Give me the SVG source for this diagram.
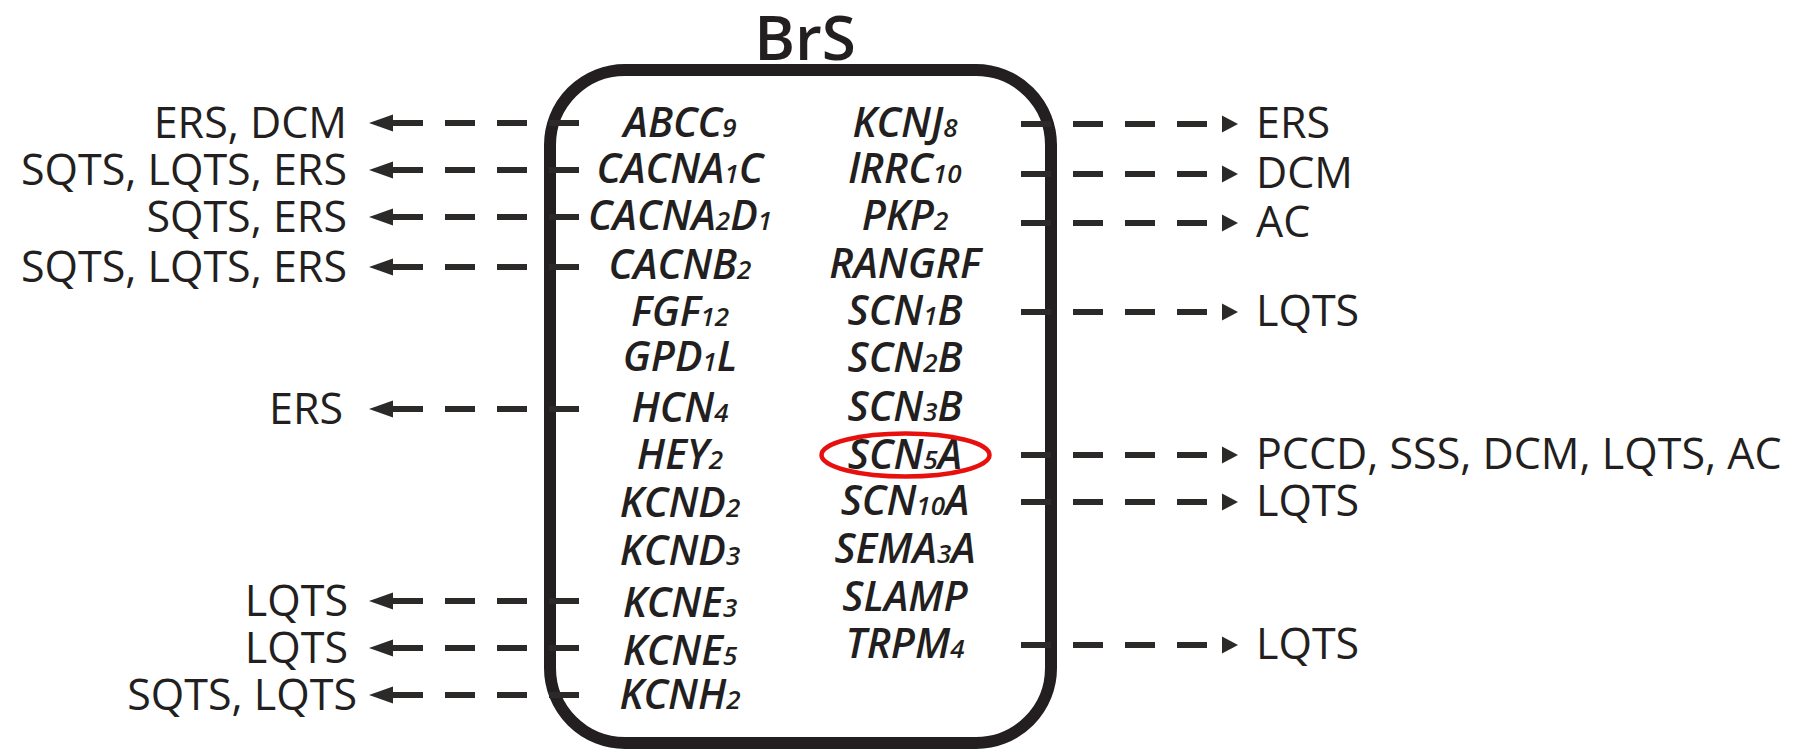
<svg xmlns="http://www.w3.org/2000/svg" width="1801" height="751" viewBox="0 0 1801 751">
<style>
.box{fill:none;stroke:#231f20;stroke-width:12}
.conn{fill:none;stroke:#2b2a29;stroke-width:6;stroke-dasharray:30 22}
.hd{fill:#2b2a29}
.gene{font-family:"Open Sans","Noto Sans",sans-serif;font-style:italic;font-weight:600;font-size:41px;fill:#231f20;text-anchor:middle}
.n{font-size:26px}
.lbl{font-family:"Open Sans","Noto Sans",sans-serif;font-size:43px;fill:#231f20}
.end{text-anchor:end}
.title{font-family:"Open Sans","Noto Sans",sans-serif;font-size:62px;font-weight:600;fill:#231f20;text-anchor:middle}
.hl{fill:none;stroke:#e8100f;stroke-width:4.5}
</style>
<defs>
<marker id="ahR" markerUnits="userSpaceOnUse" markerWidth="40" markerHeight="20" viewBox="0 -10 40 20" refX="0" refY="0" orient="auto" overflow="visible"><path class="hd" d="M15,-8.5 L31,0 L15,8.5Z"/></marker>
<marker id="ahL" markerUnits="userSpaceOnUse" markerWidth="40" markerHeight="20" viewBox="0 -10 40 20" refX="0" refY="0" orient="auto" overflow="visible"><path class="hd" d="M0,-8.5 L24,0 L0,8.5Z"/></marker>
</defs>

<g id="brs">
<text class="title" x="805" y="60">BrS</text>
<rect class="box" x="550" y="70" width="501" height="673" rx="75" ry="75"/>
</g>

<g id="connectors">
<path class="conn" marker-end="url(#ahL)" d="M579,123H393"/>
<path class="conn" marker-end="url(#ahL)" d="M579,170H393"/>
<path class="conn" marker-end="url(#ahL)" d="M579,217H393"/>
<path class="conn" marker-end="url(#ahL)" d="M579,267H393"/>
<path class="conn" marker-end="url(#ahL)" d="M579,409H393"/>
<path class="conn" marker-end="url(#ahL)" d="M579,601H393"/>
<path class="conn" marker-end="url(#ahL)" d="M579,648H393"/>
<path class="conn" marker-end="url(#ahL)" d="M579,695H393"/>
<path class="conn" marker-end="url(#ahR)" d="M1021,124H1207"/>
<path class="conn" marker-end="url(#ahR)" d="M1021,174H1207"/>
<path class="conn" marker-end="url(#ahR)" d="M1021,223H1207"/>
<path class="conn" marker-end="url(#ahR)" d="M1021,312H1207"/>
<path class="conn" marker-end="url(#ahR)" d="M1021,455H1207"/>
<path class="conn" marker-end="url(#ahR)" d="M1021,502H1207"/>
<path class="conn" marker-end="url(#ahR)" d="M1021,645H1207"/>
</g>

<g id="genes-left">
<g id="g-abcc9"><text class="gene" x="680" y="137">ABCC<tspan class="n">9</tspan></text></g>
<g id="g-cacna1c"><text class="gene" x="680" y="183">CACNA<tspan class="n">1</tspan>C</text></g>
<g id="g-cacna2d1"><text class="gene" x="680" y="230">CACNA<tspan class="n">2</tspan>D<tspan class="n">1</tspan></text></g>
<g id="g-cacnb2"><text class="gene" x="680" y="279">CACNB<tspan class="n">2</tspan></text></g>
<g id="g-fgf12"><text class="gene" x="680" y="326">FGF<tspan class="n">12</tspan></text></g>
<g id="g-gpd1l"><text class="gene" x="680" y="371">GPD<tspan class="n">1</tspan>L</text></g>
<g id="g-hcn4"><text class="gene" x="680" y="422">HCN<tspan class="n">4</tspan></text></g>
<g id="g-hey2"><text class="gene" x="680" y="469">HEY<tspan class="n">2</tspan></text></g>
<g id="g-kcnd2"><text class="gene" x="680" y="517">KCND<tspan class="n">2</tspan></text></g>
<g id="g-kcnd3"><text class="gene" x="680" y="565">KCND<tspan class="n">3</tspan></text></g>
<g id="g-kcne3"><text class="gene" x="680" y="617">KCNE<tspan class="n">3</tspan></text></g>
<g id="g-kcne5"><text class="gene" x="680" y="665">KCNE<tspan class="n">5</tspan></text></g>
<g id="g-kcnh2"><text class="gene" x="680" y="709">KCNH<tspan class="n">2</tspan></text></g>
</g>

<g id="genes-right">
<g id="g-kcnj8"><text class="gene" x="905" y="137">KCNJ<tspan class="n">8</tspan></text></g>
<g id="g-lrrc10"><text class="gene" x="905" y="183">lRRC<tspan class="n">10</tspan></text></g>
<g id="g-pkp2"><text class="gene" x="905" y="230">PKP<tspan class="n">2</tspan></text></g>
<g id="g-rangrf"><text class="gene" x="905" y="278">RANGRF</text></g>
<g id="g-scn1b"><text class="gene" x="905" y="325">SCN<tspan class="n">1</tspan>B</text></g>
<g id="g-scn2b"><text class="gene" x="905" y="372">SCN<tspan class="n">2</tspan>B</text></g>
<g id="g-scn3b"><text class="gene" x="905" y="421">SCN<tspan class="n">3</tspan>B</text></g>
<g id="g-scn5a"><text class="gene" x="905" y="469">SCN<tspan class="n">5</tspan>A</text><ellipse class="hl" cx="905.5" cy="455" rx="84" ry="21.5"/></g>
<g id="g-scn10a"><text class="gene" x="905" y="515">SCN<tspan class="n">10</tspan>A</text></g>
<g id="g-sema3a"><text class="gene" x="905" y="563">SEMA<tspan class="n">3</tspan>A</text></g>
<g id="g-slamp"><text class="gene" x="905" y="611">SLAMP</text></g>
<g id="g-trpm4"><text class="gene" x="905" y="658">TRPM<tspan class="n">4</tspan></text></g>
</g>

<g id="labels-left">
<g id="l-1"><text class="lbl end" x="347" y="138">ERS, DCM</text></g>
<g id="l-2"><text class="lbl end" x="347" y="185">SQTS, LQTS, ERS</text></g>
<g id="l-3"><text class="lbl end" x="347" y="232">SQTS, ERS</text></g>
<g id="l-4"><text class="lbl end" x="347" y="282">SQTS, LQTS, ERS</text></g>
<g id="l-5"><text class="lbl end" x="343" y="424">ERS</text></g>
<g id="l-6"><text class="lbl end" x="348" y="616">LQTS</text></g>
<g id="l-7"><text class="lbl end" x="348" y="663">LQTS</text></g>
<g id="l-8"><text class="lbl end" x="357" y="710">SQTS, LQTS</text></g>
</g>

<g id="labels-right">
<g id="r-1"><text class="lbl" x="1256" y="138">ERS</text></g>
<g id="r-2"><text class="lbl" x="1256" y="188">DCM</text></g>
<g id="r-3"><text class="lbl" x="1256" y="237">AC</text></g>
<g id="r-4"><text class="lbl" x="1256" y="326">LQTS</text></g>
<g id="r-5"><text class="lbl" x="1256" y="469">PCCD, SSS, DCM, LQTS, AC</text></g>
<g id="r-6"><text class="lbl" x="1256" y="516">LQTS</text></g>
<g id="r-7"><text class="lbl" x="1256" y="659">LQTS</text></g>
</g>
</svg>
